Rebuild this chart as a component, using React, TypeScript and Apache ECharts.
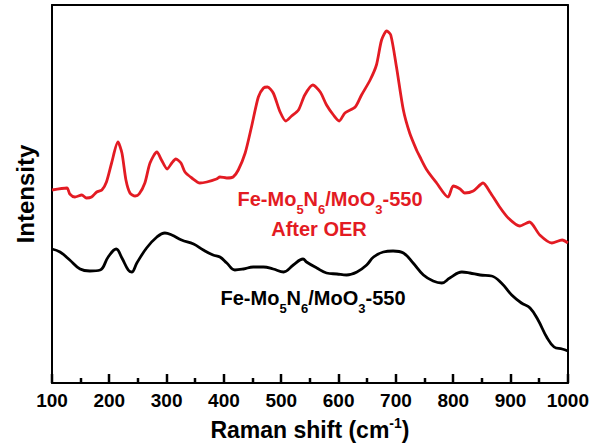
import { useEffect, useRef } from "react";
import * as echarts from "echarts";

// Raman shift (cm-1) and intensity (a.u.)
const shiftAfter = [100, 126, 131, 140, 152, 160, 169, 178, 187, 195, 204, 215, 222, 229, 236, 245, 252, 262, 271, 283, 291, 301, 309, 316, 325, 332, 344, 358, 370, 387, 393, 405, 416, 425, 437, 448, 460, 469, 476, 486, 498, 508, 518, 530, 541, 555, 568, 579, 591, 601, 611, 629, 640, 655, 666, 675, 684, 691, 701, 713, 724, 736, 742, 754, 771, 791, 800, 812, 820, 835, 852, 864, 881, 896, 916, 933, 951, 972, 990, 1000];
const intensityAfter = [193, 195, 189, 186, 188, 185, 186, 191, 193, 201, 220, 241, 230, 203, 190, 187, 189, 200, 220, 231, 223, 214, 220, 224, 220, 211, 205, 200, 201, 204, 206, 205, 206, 213, 230, 256, 286, 295, 296, 290, 271, 262, 267, 273, 288, 298, 291, 278, 268, 262, 270, 276, 288, 303, 318, 343, 352, 348, 316, 273, 250, 233, 226, 213, 200, 186, 197, 194, 190, 192, 200, 191, 176, 165, 157, 161, 148, 140, 143, 140];

const shiftBefore = [100, 114, 131, 149, 166, 184, 198, 212, 222, 233, 239, 248, 265, 283, 297, 309, 326, 347, 364, 381, 393, 405, 419, 434, 451, 469, 486, 504, 521, 538, 544, 562, 579, 597, 614, 632, 649, 661, 678, 695, 713, 730, 748, 765, 780, 794, 815, 829, 847, 867, 884, 902, 919, 934, 948, 963, 976, 990, 1000];
const intensityBefore = [134, 131, 123, 114, 112, 113, 126, 134, 125, 113, 111, 120, 135, 146, 150, 148, 143, 139, 133, 128, 126, 120, 113, 114, 116, 116, 114, 111, 118, 124, 121, 115, 110, 109, 108, 111, 118, 126, 131, 132, 130, 120, 108, 102, 100, 105, 111, 110, 108, 107, 100, 88, 80, 75, 63, 46, 36, 34, 32];

// x-axis tick positions (cm-1)
const majorTicks = [100, 200, 300, 400, 500, 600, 700, 800, 900, 1000];
const minorTicks = [150, 250, 350, 450, 550, 650, 750, 850, 950];

const seriesNames = ["Fe-Mo5N6/MoO3-550 After OER", "Fe-Mo5N6/MoO3-550"];
const xAxisTitle = "Raman shift (cm{sup|-1})";
const yAxisTitle = "Intensity";

const RED = "#e31b23";
const FONT = "'Liberation Sans', Arial, sans-serif";

export default function App() {
  const ref = useRef<HTMLDivElement>(null);
  useEffect(() => {
    const chart = echarts.init(ref.current!, null, { renderer: "svg" });
    const subRich = (fill: string) => ({
      sub: { fontSize: 13, fontWeight: "bold", fontFamily: FONT, fill, color: fill, padding: [20, 0, 0, 0] },
    });
    const frameLine = { show: true, onZero: false, lineStyle: { color: "#000", width: 2 } };
    const tickData = [
      ...majorTicks.map((v) => [v, 0, 9]),
      ...minorTicks.map((v) => [v, 0, 5]),
    ];
    chart.setOption({
      animation: false,
      backgroundColor: "#ffffff",
      grid: { left: 52, right: 24, top: 5, bottom: 65 },
      xAxis: [
        {
          type: "value",
          position: "bottom",
          min: 100,
          max: 1000,
          interval: 100,
          name: xAxisTitle,
          nameLocation: "middle",
          nameGap: 33,
          nameTextStyle: {
            fontSize: 23, fontWeight: "bold", fontFamily: FONT, color: "#000",
            rich: { sup: { fontSize: 14, fontWeight: "bold", fontFamily: FONT, color: "#000", padding: [0, 0, 14, 0] } },
          },
          axisLine: frameLine,
          axisTick: { show: false },
          splitLine: { show: false },
          axisLabel: { fontSize: 19, fontWeight: "bold", fontFamily: FONT, color: "#000", margin: 8, formatter: (v: number) => String(v) },
        },
        {
          type: "value",
          position: "top",
          min: 100,
          max: 1000,
          interval: 100,
          axisLine: frameLine,
          axisTick: { show: false },
          axisLabel: { show: false },
          splitLine: { show: false },
        },
      ],
      yAxis: [
        {
          type: "value",
          position: "left",
          min: 0,
          max: 378,
          name: yAxisTitle,
          nameLocation: "middle",
          nameGap: 15,
          nameTextStyle: { fontSize: 24, fontWeight: "bold", fontFamily: FONT, color: "#000" },
          axisLine: frameLine,
          axisTick: { show: false },
          axisLabel: { show: false },
          splitLine: { show: false },
        },
        {
          type: "value",
          position: "right",
          min: 0,
          max: 378,
          axisLine: frameLine,
          axisTick: { show: false },
          axisLabel: { show: false },
          splitLine: { show: false },
        },
      ],
      series: [
        {
          name: seriesNames[0],
          type: "line",
          data: shiftAfter.map((x, i) => [x, intensityAfter[i]]),
          showSymbol: false,
          smooth: 0.25,
          lineStyle: { color: RED, width: 2.8 },
        },
        {
          name: seriesNames[1],
          type: "line",
          data: shiftBefore.map((x, i) => [x, intensityBefore[i]]),
          showSymbol: false,
          smooth: 0.4,
          lineStyle: { color: "#000", width: 2.8 },
        },
        {
          name: "ticks",
          type: "custom",
          data: tickData,
          silent: true,
          clip: false,
          z: 10,
          renderItem: (_params: any, api: any) => {
            const p = api.coord([api.value(0), api.value(1)]);
            const len = api.value(2);
            const x = Math.round(p[0]);
            return {
              type: "line",
              shape: { x1: x, y1: p[1], x2: x, y2: p[1] - len },
              style: { stroke: "#000", lineWidth: 2.5 },
            };
          },
        },
      ],
      graphic: [
        {
          type: "text", x: 330, y: 199,
          style: {
            text: "Fe-Mo{sub|5}N{sub|6}/MoO{sub|3}-550", fill: RED, fontSize: 20, fontWeight: "bold", fontFamily: FONT,
            align: "center", verticalAlign: "middle", rich: subRich(RED),
          },
        },
        {
          type: "text", x: 319, y: 229,
          style: { text: "After OER", fill: RED, fontSize: 20, fontWeight: "bold", fontFamily: FONT, align: "center", verticalAlign: "middle" },
        },
        {
          type: "text", x: 313, y: 298,
          style: {
            text: "Fe-Mo{sub|5}N{sub|6}/MoO{sub|3}-550", fill: "#000", fontSize: 20, fontWeight: "bold", fontFamily: FONT,
            align: "center", verticalAlign: "middle", rich: subRich("#000"),
          },
        },
      ],
    });
    return () => chart.dispose();
  }, []);
  return <div ref={ref} style={{ position: "fixed", left: 0, top: 0, width: 592, height: 448 }} />;
}
